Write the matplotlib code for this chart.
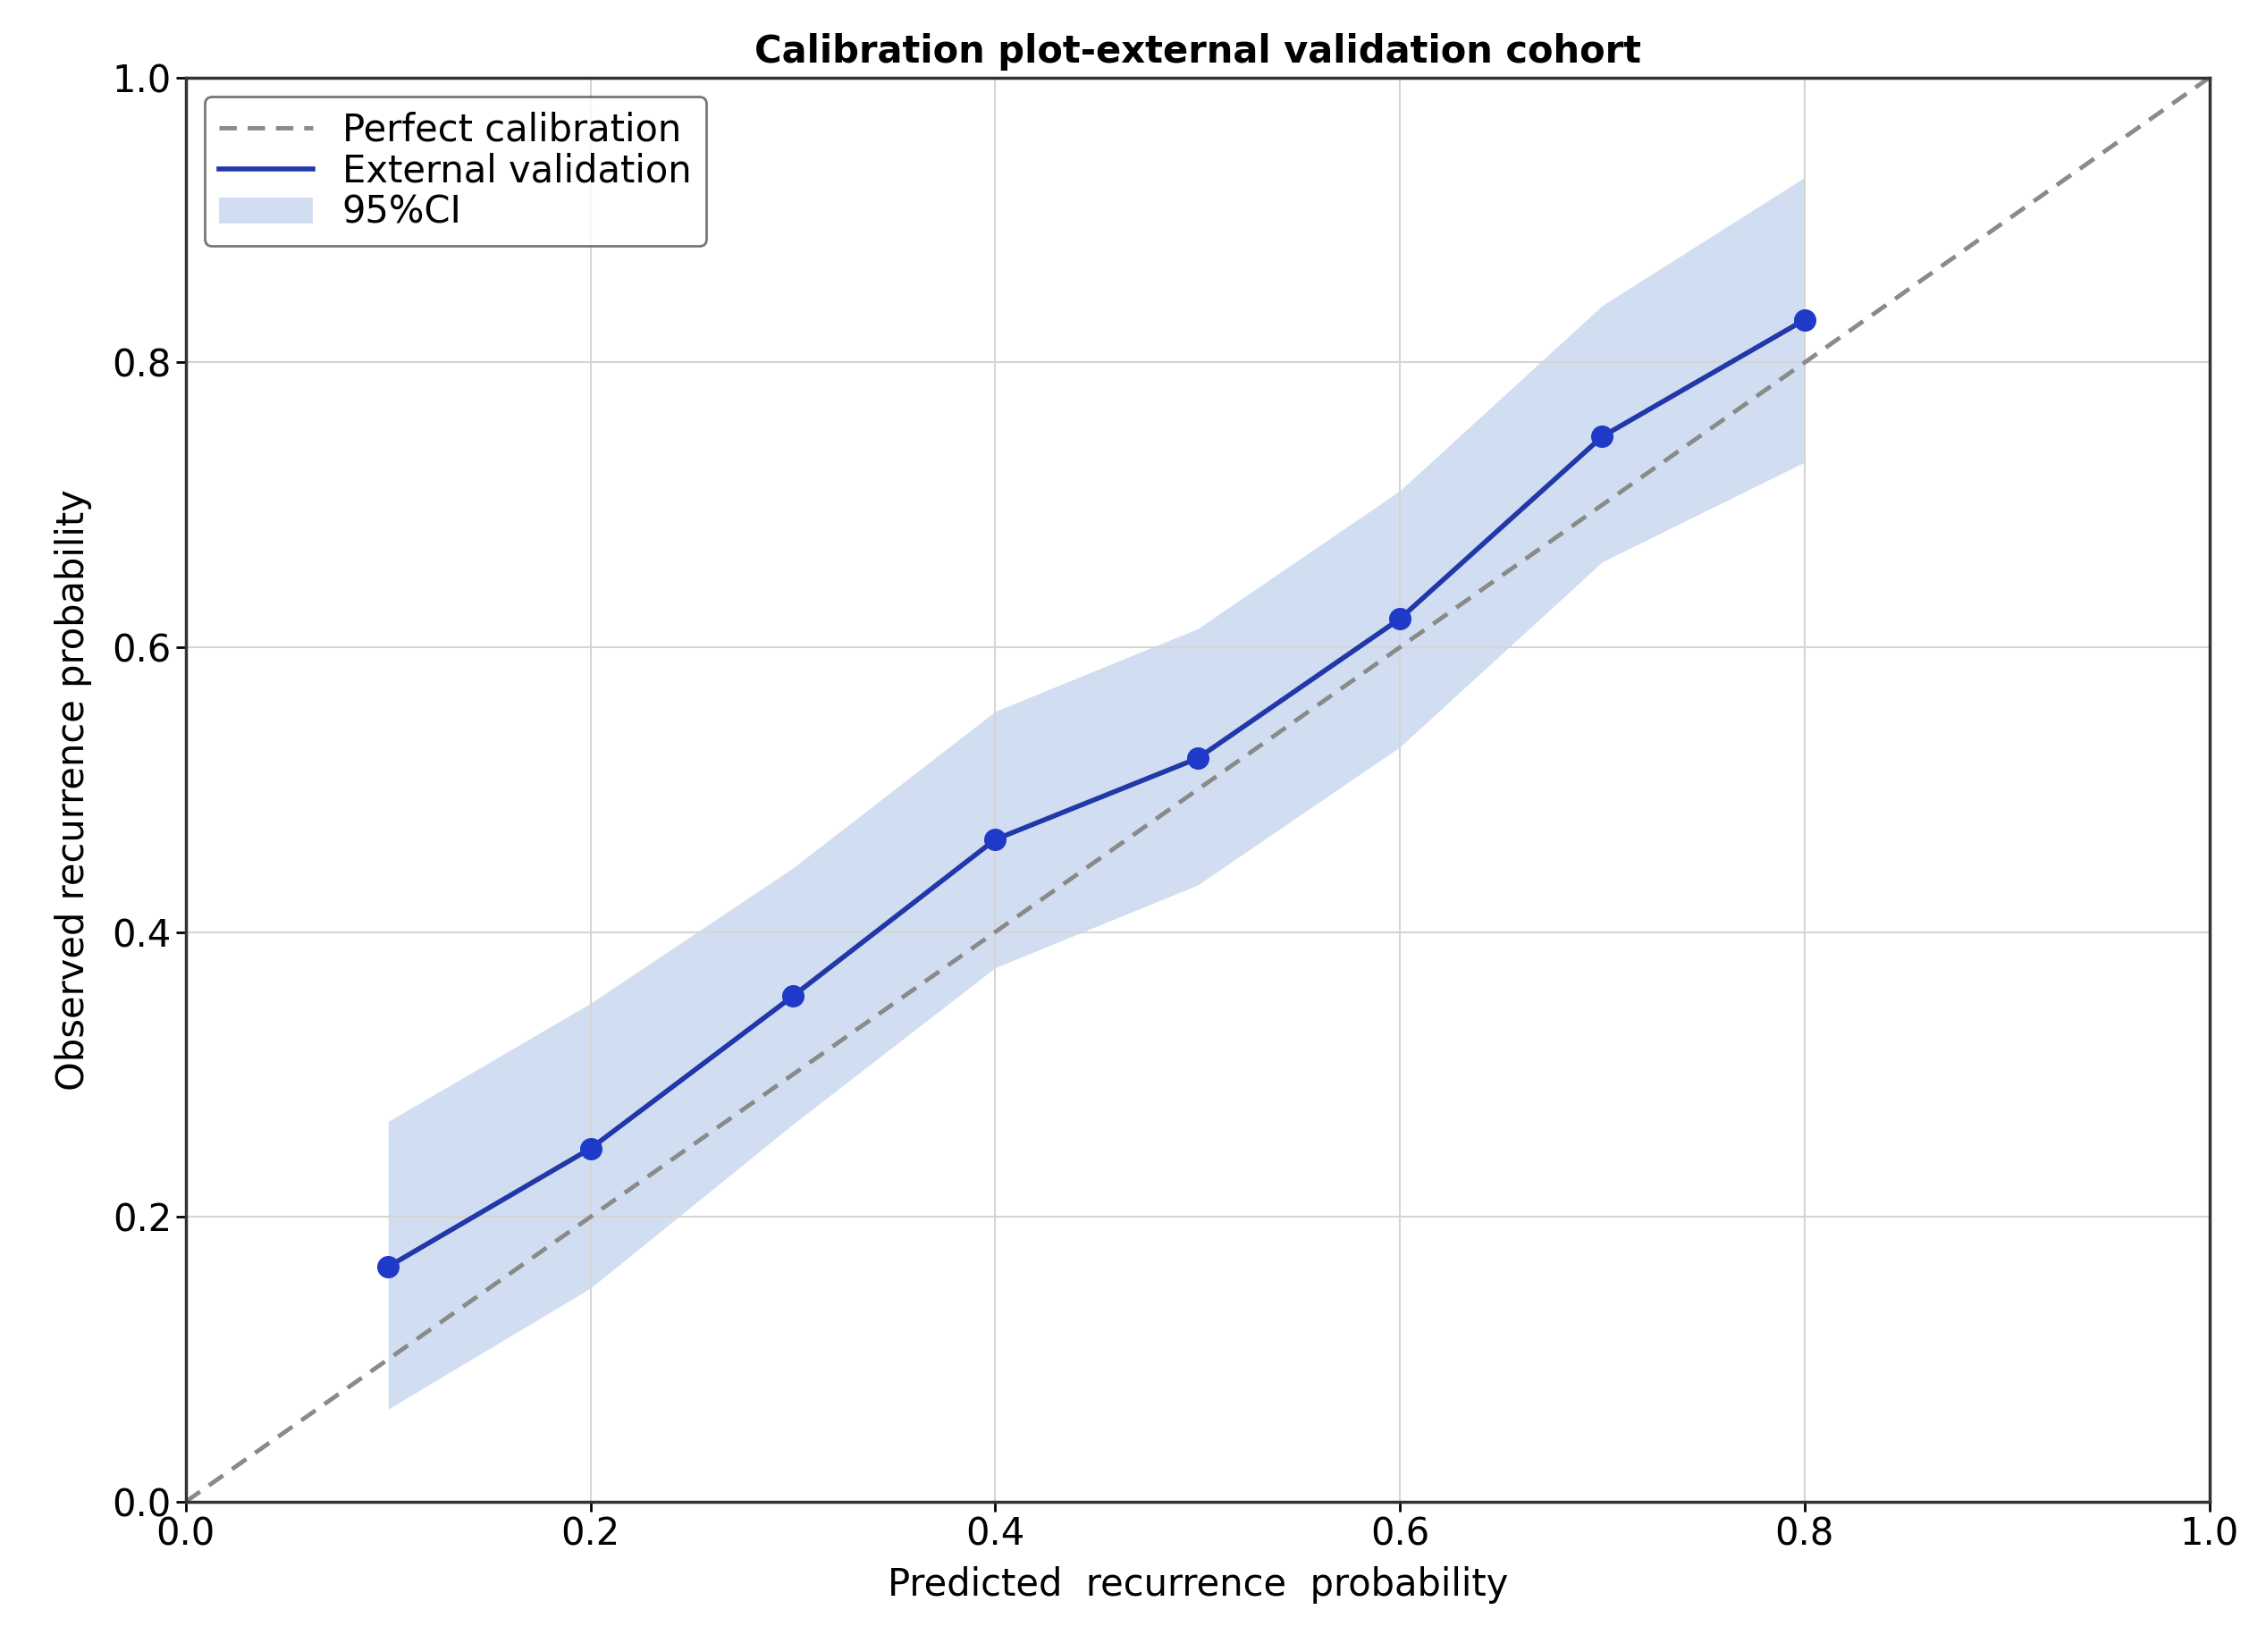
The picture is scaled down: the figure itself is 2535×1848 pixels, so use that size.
import numpy as np
import matplotlib
matplotlib.use("Agg")
import matplotlib.pyplot as plt

pred = [0.1, 0.2, 0.3, 0.4, 0.5, 0.6, 0.7, 0.8]
obs = [0.165, 0.248, 0.355, 0.465, 0.522, 0.620, 0.748, 0.830]
ci_low = [0.065, 0.150, 0.265, 0.375, 0.433, 0.530, 0.660, 0.730]
ci_high = [0.267, 0.350, 0.445, 0.555, 0.613, 0.710, 0.840, 0.930]

fig = plt.figure(figsize=(25.35, 18.48), dpi=100)
ax = fig.add_axes([0.082, 0.091, 0.893, 0.862])

ax.plot([0, 1], [0, 1], ls="--", color="#8a8a8a", lw=3.5, dashes=(4, 2.5),
        label="Perfect calibration", zorder=2)
ax.fill_between(pred, ci_low, ci_high, color="#b3c8e8", alpha=0.6, lw=0,
                label="95%CI", zorder=1)
ax.plot(pred, obs, color="#2237a8", lw=4, label="External validation", zorder=3)
ax.plot(pred, obs, "o", color="#1f3ac8", ms=17, zorder=4)

ax.set_xlim(0, 1)
ax.set_ylim(0, 1)
ticks = np.arange(0, 1.01, 0.2)
ax.set_xticks(ticks)
ax.set_yticks(ticks)
ax.set_xticklabels([f"{t:.1f}" for t in ticks])
ax.set_yticklabels([f"{t:.1f}" for t in ticks])
ax.tick_params(labelsize=30, length=8, width=2)
ax.grid(True, color="#d5d5d5", lw=1.5)
for s in ax.spines.values():
    s.set_linewidth(2.5)
    s.set_color("#333333")

ax.set_xlabel("Predicted  recurrence  probability", fontsize=30, labelpad=10)
ax.set_ylabel("Observed recurrence probability", fontsize=30, labelpad=16)
ax.set_title("Calibration plot-external validation cohort", fontsize=30,
             fontweight="bold", pad=12)

h, l = ax.get_legend_handles_labels()
order = [0, 2, 1]
leg = ax.legend([h[i] for i in order], [l[i] for i in order], loc="upper left",
                fontsize=30, frameon=True, fancybox=True, edgecolor="#555555",
                handlelength=2.5, borderpad=0.4, labelspacing=0.1)
leg.get_frame().set_linewidth(2)

fig.savefig("out.png", dpi=100)
